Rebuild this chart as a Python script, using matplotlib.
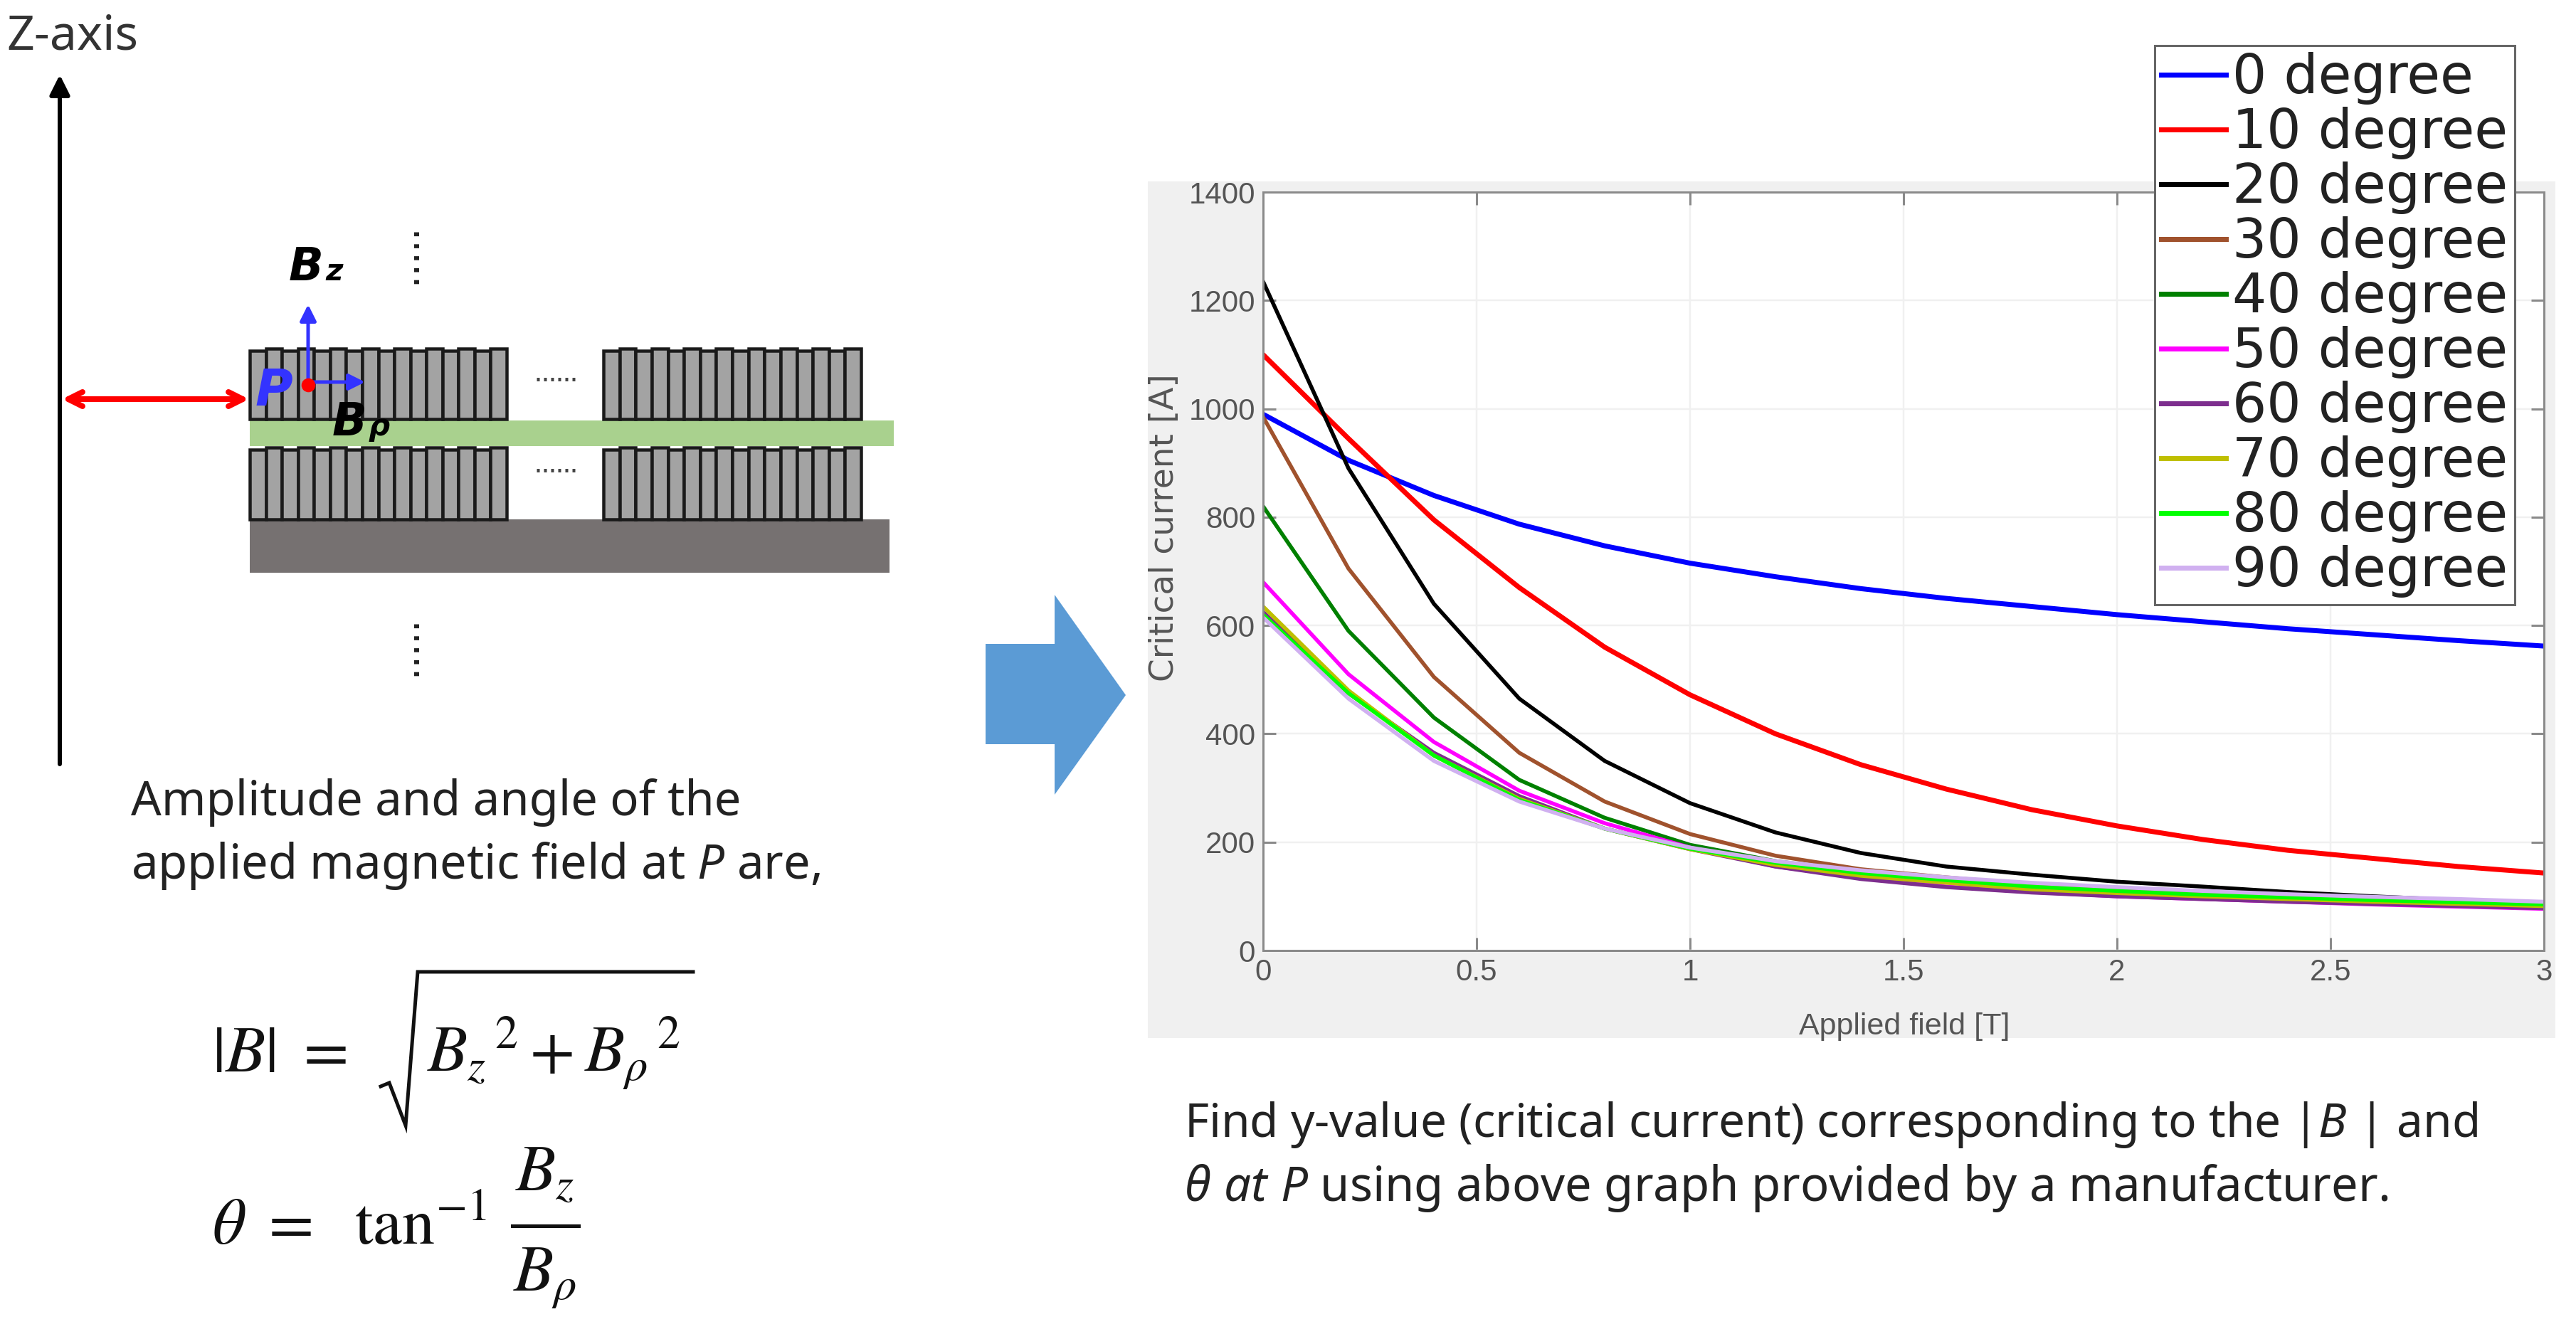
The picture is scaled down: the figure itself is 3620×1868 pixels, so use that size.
"""
Critical current graph next to the coil sketch and the field formulas.
"""
import matplotlib
matplotlib.use('Agg')
import matplotlib.pyplot as plt
from matplotlib.patches import Rectangle, Polygon

plt.rcParams['font.family'] = ['Noto Sans', 'DejaVu Sans']
plt.rcParams['mathtext.fontset'] = 'custom'
plt.rcParams['mathtext.rm'] = 'Noto Sans'
plt.rcParams['mathtext.it'] = 'Noto Sans:italic'
plt.rcParams['mathtext.bf'] = 'Noto Sans:bold'

W, H = 3620, 1868
PT = 72.0 / 100  # one output pixel in points

field = [0, 0.2, 0.4, 0.6, 0.8, 1.0, 1.2, 1.4, 1.6, 1.8, 2.0, 2.2, 2.4, 2.6, 2.8, 3.0]
deg_0 = [990, 905, 840, 787, 747, 715, 690, 668, 650, 635, 620, 607, 594, 583, 572, 562]
deg_10 = [1100, 945, 795, 670, 560, 472, 400, 343, 298, 260, 230, 205, 185, 170, 155, 143]
deg_20 = [1235, 890, 640, 465, 350, 272, 218, 180, 155, 140, 127, 118, 108, 100, 93, 88]
deg_30 = [985, 705, 505, 365, 275, 215, 175, 150, 135, 122, 112, 105, 98, 92, 87, 82]
deg_40 = [820, 590, 430, 315, 245, 195, 165, 145, 130, 118, 108, 100, 94, 88, 83, 78]
deg_50 = [680, 510, 385, 295, 235, 190, 155, 135, 118, 108, 100, 95, 90, 85, 81, 77]
deg_60 = [625, 475, 365, 285, 225, 187, 155, 132, 117, 107, 100, 95, 90, 86, 82, 78]
deg_70 = [635, 480, 360, 280, 225, 187, 158, 138, 125, 113, 106, 100, 95, 90, 86, 82]
deg_80 = [620, 475, 360, 278, 225, 188, 162, 143, 130, 118, 110, 103, 98, 93, 89, 85]
deg_90 = [615, 465, 350, 275, 225, 190, 165, 148, 135, 125, 117, 110, 104, 99, 95, 90]

series = [deg_0, deg_10, deg_20, deg_30, deg_40, deg_50, deg_60, deg_70, deg_80, deg_90]
labels = ['0 degree', '10 degree', '20 degree', '30 degree', '40 degree',
          '50 degree', '60 degree', '70 degree', '80 degree', '90 degree']
colors = ['#0000FF', '#FF0000', '#000000', '#A0522D', '#008000',
          '#FF00FF', '#7D2E8E', '#BFBF00', '#00FF00', '#D0B0F0']
x_ticks = [0, 0.5, 1, 1.5, 2, 2.5, 3]
x_tick_labels = ['0', '0.5', '1', '1.5', '2', '2.5', '3']
y_ticks = [0, 200, 400, 600, 800, 1000, 1200, 1400]

fig = plt.figure(figsize=(W / 100, H / 100), dpi=100, facecolor='white')

# overlay in image pixels for the sketch and the captions
ov = fig.add_axes([0, 0, 1, 1], zorder=0)
ov.set_xlim(0, W)
ov.set_ylim(H, 0)
ov.axis('off')


def arrow(x0, y0, x1, y1, color, lw, style='-|>', scale=40):
    ov.annotate('', xy=(x1, y1), xytext=(x0, y0),
                arrowprops=dict(arrowstyle=style, color=color, lw=lw * PT, mutation_scale=scale,
                                shrinkA=0, shrinkB=0))


def coil_block(x0, x1, y0, y1, n=16):
    w = (x1 - x0) / float(n)
    for i in range(n):
        top = y0 + (3 if i % 2 == 0 else 0)
        ov.add_patch(Rectangle((x0 + i * w, top), w, y1 - top, facecolor='#A3A3A3',
                               edgecolor='#1A1A1A', lw=4.5 * PT))


ov.add_patch(Rectangle((1613, 255), 1978, 1204, facecolor='#F0F0F0', edgecolor='none'))

# z axis
ov.text(9, 70, 'Z-axis', fontsize=68 * PT, color='#333333', va='baseline')
arrow(84, 1074, 84, 105, 'black', 6, scale=42)

# coil cross section
ov.add_patch(Rectangle((351, 591), 905, 36, facecolor='#A9D18E', edgecolor='none'))
ov.add_patch(Rectangle((351, 730), 899, 75, facecolor='#767171', edgecolor='none'))
coil_block(351, 712, 490, 589)
coil_block(848, 1210, 490, 589)
coil_block(351, 712, 629, 730)
coil_block(848, 1210, 629, 730)
ov.plot([585, 585], [326, 403], color='#222222', lw=7 * PT, ls=(0, (0.8, 1.6)))
ov.plot([585, 585], [877, 954], color='#222222', lw=7 * PT, ls=(0, (0.8, 1.6)))
ov.plot([754, 812], [533, 533], color='#444444', lw=5 * PT, ls=(0, (0.8, 1.2)))
ov.plot([754, 812], [661, 661], color='#444444', lw=5 * PT, ls=(0, (0.8, 1.2)))

arrow(87, 561, 350, 561, '#FF0000', 8, style='<->', scale=36)
ov.plot([433], [541], 'o', color='#FF0000', ms=14 * PT * 1.3, zorder=4)
arrow(433, 540, 433, 428, '#3333FF', 5, scale=34)
arrow(433, 537, 513, 537, '#3333FF', 5, scale=34)
bold = dict(family='DejaVu Sans', style='italic', weight='bold', zorder=5)
ov.text(358, 570, 'P', color='#3333FF', fontsize=72 * PT, **bold)
ov.text(406, 394, 'B', color='black', fontsize=64 * PT, **bold)
ov.text(457, 394, 'z', color='black', fontsize=42 * PT, **bold)
ov.text(467, 612, 'B', color='black', fontsize=64 * PT, **bold)
ov.text(518, 612, '\u03c1', color='black', fontsize=42 * PT, **bold)

# block arrow between the panels
ov.add_patch(Polygon([(1385, 905), (1482, 905), (1482, 836), (1582, 977),
                      (1482, 1117), (1482, 1046), (1385, 1046)],
                     closed=True, facecolor='#5B9BD5', edgecolor='none'))

# captions
cap = dict(color='#222222', va='baseline')
ov.text(184, 1146, 'Amplitude and angle of the', fontsize=67 * PT, **cap)
ov.text(184, 1235, 'applied magnetic field at $P$ are,', fontsize=67 * PT, **cap)
ov.text(1664, 1598, 'Find y-value (critical current) corresponding to the |$B$ | and',
        fontsize=65.7 * PT, **cap)
ov.text(1664, 1688, r'$\theta\ at\ P$ using above graph provided by a manufacturer.',
        fontsize=67 * PT, **cap)

# formulas
eq = dict(color='#111111', fontsize=92 * PT, va='baseline', math_fontfamily='stix')
ov.text(298, 1506, r'$|B|\ =$', **eq)
ov.plot([535, 547, 570, 587, 974], [1527, 1522, 1582, 1366, 1366], color='#111111',
        lw=5 * PT, solid_joinstyle='miter')
ov.text(600, 1506, r'$B_z{}^{\,2}+B_\rho{}^{\,2}$', **eq)
ov.text(298, 1749, r'$\theta\ =\ \ \mathrm{tan}^{-1}$', **eq)
ov.plot([720, 813], [1723, 1723], color='#111111', lw=5 * PT)
ov.text(766, 1673, r'$B_z$', ha='center', **eq)
ov.text(766, 1814, r'$B_\rho$', ha='center', **eq)

# graph
ax = fig.add_axes([1775.0 / W, 1 - 1336.0 / H, 1800.0 / W, 1066.0 / H], zorder=2)
ax.set_facecolor('white')
widths = [7, 7, 5.5, 5.5, 5.5, 5.5, 5.5, 5.5, 5.5, 5.5]
handles = []
for values, label, color, width in zip(series, labels, colors, widths):
    handles.append(ax.plot(field, values, color=color, lw=width * PT, label=label)[0])
ax.set_xlim(0, 3)
ax.set_ylim(0, 1400)
ax.set_xticks(x_ticks)
ax.set_xticklabels(x_tick_labels)
ax.set_yticks(y_ticks)
ax.grid(True, color='#F0F0F0', lw=2.5 * PT)
ax.set_axisbelow(True)
for spine in ax.spines.values():
    spine.set_color('#8A8A8A')
    spine.set_linewidth(3 * PT)
tick_font = 'Liberation Sans'
ax.tick_params(direction='in', length=18 * PT, width=3 * PT, color='#8A8A8A',
               top=True, right=True, labelcolor='#555555', labelsize=42 * PT, pad=8)
for tick in ax.get_xticklabels() + ax.get_yticklabels():
    tick.set_family(tick_font)

grey = dict(color='#555555')
fig.text(2676.0 / W, 1 - 1454.0 / H, 'Applied field [T]', ha='center', va='baseline',
         family=tick_font, fontsize=43 * PT, **grey)
fig.text(1636.0 / W, 1 - 742.0 / H, 'Critical current [A]', rotation=90, ha='center', va='center',
         family='DejaVu Sans', fontsize=47 * PT, **grey)

leg = ax.legend(handles=handles, loc='upper left', bbox_to_anchor=(3028.0 / W, 1 - 64.0 / H),
                bbox_transform=fig.transFigure, borderaxespad=0, fancybox=False, framealpha=1,
                edgecolor='#666666', prop={'family': 'DejaVu Sans', 'size': 76 * PT},
                handlelength=1.2, handletextpad=0.12, labelspacing=0.04, borderpad=0.12)
leg.get_frame().set_linewidth(3 * PT)
for line in leg.get_lines():
    line.set_linewidth(7 * PT)
for text in leg.get_texts():
    text.set_color('#222222')

fig.savefig('out.png', dpi=100)
